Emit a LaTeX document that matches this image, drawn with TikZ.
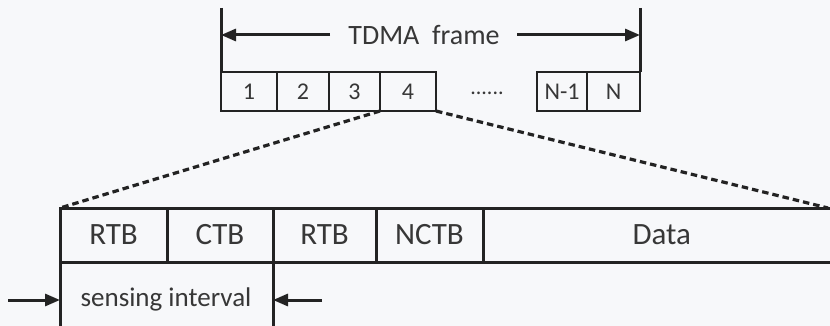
\documentclass[tikz,border=0pt]{standalone}
\usepackage{fontspec}
\setmainfont{Carlito}
\usetikzlibrary{arrows.meta}
\definecolor{ink}{RGB}{35,35,35}
\definecolor{txt}{RGB}{55,55,55}
\definecolor{bg}{RGB}{247,248,250}
\begin{document}
\begin{tikzpicture}[x=1pt,y=-1pt,
  slot/.style={draw=ink, line width=2.8pt, minimum height=39pt, inner sep=0pt, outer sep=0pt, text=txt, font=\fontsize{24}{26}\selectfont},
  field/.style={draw=ink, line width=3pt, minimum height=54pt, inner sep=0pt, outer sep=0pt, text=txt, font=\fontsize{31}{34}\selectfont},
  vline/.style={draw=ink, line width=3pt},
  arr/.style={draw=ink, line width=3pt, -{Triangle[length=15pt,width=12pt]}},
  zoomline/.style={draw=ink, line width=3.2pt, dash pattern=on 6.5pt off 4pt}]
\fill[bg] (0,0) rectangle (830,326);
\useasboundingbox (0,0) rectangle (830,326);
% top frame slots
\node[slot, minimum width=56pt] (s1) at (249,91.5) {1};
\node[slot, minimum width=52pt] (s2) at (303,91.5) {2};
\node[slot, minimum width=51pt] (s3) at (354.5,91.5) {3};
\node[slot, minimum width=56pt] (s4) at (408,91.5) {4};
\node[text=txt, font=\fontsize{22}{24}\selectfont] (dots) at (487,93) {......};
\node[slot, minimum width=50pt] (sn1) at (562,91.5) {N-1};
\node[slot, minimum width=53pt] (sn) at (613.5,91.5) {N};
\coordinate (fl) at (221,8);
\coordinate (fr) at (640,8);
\draw[vline] (fl) -- (s1.north west);
\draw[vline] (fr) -- (sn.north east);
\node[text=txt, font=\fontsize{28}{30}\selectfont] (tdma) at (424,35) {TDMA\ \ frame};
\coordinate (al) at (330,35);
\coordinate (ar) at (517,35);
\draw[arr] (al) -- (al -| fl);
\draw[arr] (ar) -- (ar -| fr);
% bottom bar
\node[field, minimum width=107pt] (b1) at (113.5,235) {RTB};
\node[field, minimum width=106pt] (b2) at (220,235) {CTB};
\node[field, minimum width=103pt] (b3) at (324.5,235) {RTB};
\node[field, minimum width=107pt] (b4) at (429.5,235) {NCTB};
\node[field, minimum width=356pt, text width=347pt, align=left] (b5) at (661,235) {\hspace*{145pt}Data};
% sensing interval
\coordinate (sl) at (60,330);
\coordinate (sr) at (273,330);
\draw[vline] (b1.south west) -- (sl);
\draw[vline] (b3.south west) -- (sr);
\node[text=txt, font=\fontsize{27}{29}\selectfont] (sense) at (166,299) {sensing interval};
\coordinate (la) at (8,300);
\coordinate (ra) at (322,300);
\draw[arr] (la) -- (la -| b1.west);
\draw[arr] (ra) -- (ra -| b3.west);
% zoom lines
\coordinate (dr) at (828,208);
\draw[zoomline] (s4.south west) -- (b1.north west);
\draw[zoomline] (s4.south east) -- (dr);
\end{tikzpicture}
\end{document}
